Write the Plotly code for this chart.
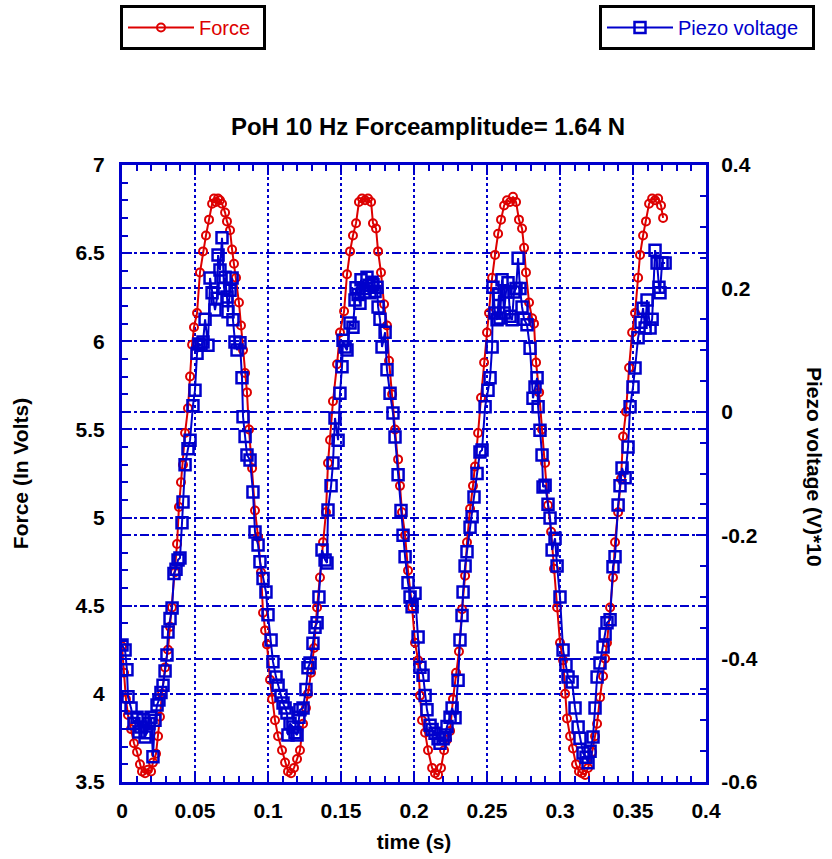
import plotly.graph_objects as go

# ---------------- data ----------------
force_t = [0.0000, 0.0014, 0.0027, 0.0041, 0.0062, 0.0082, 0.0103, 0.0123, 0.0137, 0.0158,
           0.0178, 0.0199, 0.0212, 0.0233, 0.0247, 0.0260, 0.0274, 0.0295, 0.0315, 0.0329,
           0.0342, 0.0363, 0.0377, 0.0390, 0.0404, 0.0418, 0.0432, 0.0452, 0.0466, 0.0480,
           0.0493, 0.0514, 0.0534, 0.0555, 0.0575, 0.0596, 0.0617, 0.0630, 0.0644, 0.0658,
           0.0671, 0.0685, 0.0706, 0.0719, 0.0740, 0.0754, 0.0767, 0.0781, 0.0801, 0.0815,
           0.0829, 0.0843, 0.0856, 0.0870, 0.0891, 0.0911, 0.0932, 0.0952, 0.0966, 0.0980,
           0.0993, 0.1014, 0.1028, 0.1048, 0.1069, 0.1096, 0.1117, 0.1137, 0.1158, 0.1178,
           0.1199, 0.1219, 0.1240, 0.1260, 0.1274, 0.1295, 0.1315, 0.1336, 0.1356, 0.1377,
           0.1397, 0.1411, 0.1425, 0.1445, 0.1473, 0.1493, 0.1521, 0.1541, 0.1562, 0.1582,
           0.1603, 0.1623, 0.1644, 0.1665, 0.1685, 0.1706, 0.1719, 0.1740, 0.1754, 0.1774,
           0.1795, 0.1815, 0.1829, 0.1850, 0.1870, 0.1891, 0.1904, 0.1918, 0.1939, 0.1959,
           0.1987, 0.2007, 0.2028, 0.2041, 0.2055, 0.2076, 0.2096, 0.2124, 0.2144, 0.2165,
           0.2185, 0.2206, 0.2226, 0.2247, 0.2267, 0.2288, 0.2308, 0.2329, 0.2350, 0.2363,
           0.2384, 0.2404, 0.2418, 0.2439, 0.2459, 0.2480, 0.2500, 0.2514, 0.2535, 0.2555,
           0.2576, 0.2596, 0.2617, 0.2637, 0.2658, 0.2678, 0.2699, 0.2719, 0.2740, 0.2754,
           0.2767, 0.2788, 0.2809, 0.2822, 0.2836, 0.2857, 0.2877, 0.2898, 0.2918, 0.2939,
           0.2959, 0.2980, 0.3000, 0.3021, 0.3035, 0.3048, 0.3069, 0.3089, 0.3110, 0.3130,
           0.3151, 0.3172, 0.3192, 0.3220, 0.3240, 0.3254, 0.3274, 0.3295, 0.3309, 0.3322,
           0.3343, 0.3363, 0.3377, 0.3398, 0.3418, 0.3432, 0.3452, 0.3473, 0.3494, 0.3514,
           0.3535, 0.3548, 0.3569, 0.3589, 0.3610, 0.3631, 0.3651, 0.3672, 0.3692, 0.3706]
force_v = [4.27, 4.12, 3.97, 3.88, 3.80, 3.72, 3.67, 3.60, 3.56, 3.55,
           3.57, 3.56, 3.61, 3.66, 3.76, 3.87, 4.00, 4.15, 4.25, 4.38,
           4.49, 4.69, 4.85, 5.06, 5.20, 5.30, 5.48, 5.62, 5.80, 5.98,
           6.08, 6.16, 6.39, 6.51, 6.60, 6.69, 6.78, 6.81, 6.79, 6.81,
           6.80, 6.78, 6.73, 6.68, 6.63, 6.52, 6.44, 6.36, 6.22, 6.09,
           5.95, 5.82, 5.71, 5.50, 5.28, 5.04, 4.89, 4.69, 4.46, 4.36,
           4.28, 4.08, 3.97, 3.85, 3.76, 3.68, 3.61, 3.56, 3.55, 3.58,
           3.63, 3.68, 3.83, 3.92, 4.00, 4.12, 4.26, 4.49, 4.66, 4.86,
           5.03, 5.31, 5.44, 5.66, 5.87, 6.05, 6.17, 6.38, 6.51, 6.60,
           6.67, 6.79, 6.81, 6.80, 6.81, 6.79, 6.67, 6.64, 6.51, 6.39,
           6.21, 6.09, 5.89, 5.70, 5.50, 5.33, 5.18, 5.03, 4.90, 4.70,
           4.49, 4.29, 4.19, 3.99, 3.85, 3.78, 3.68, 3.58, 3.55, 3.54,
           3.58, 3.68, 3.74, 3.79, 3.97, 4.12, 4.24, 4.48, 4.67, 4.86,
           5.05, 5.18, 5.29, 5.48, 5.68, 5.88, 6.05, 6.16, 6.36, 6.49,
           6.61, 6.69, 6.77, 6.80, 6.79, 6.82, 6.79, 6.69, 6.64, 6.53,
           6.39, 6.22, 6.13, 6.10, 5.88, 5.71, 5.50, 5.31, 5.07, 4.92,
           4.71, 4.49, 4.29, 4.19, 4.00, 3.86, 3.76, 3.69, 3.60, 3.56,
           3.55, 3.54, 3.58, 3.67, 3.76, 3.83, 3.98, 4.10, 4.20, 4.29,
           4.49, 4.66, 4.86, 5.03, 5.22, 5.46, 5.60, 5.85, 6.05, 6.16,
           6.36, 6.49, 6.60, 6.68, 6.78, 6.81, 6.80, 6.81, 6.77, 6.70]

piezo_t = [0.0000, 0.0021, 0.0034, 0.0041, 0.0062, 0.0082, 0.0103, 0.0116, 0.0130, 0.0144,
           0.0158, 0.0171, 0.0185, 0.0199, 0.0212, 0.0226, 0.0240, 0.0253, 0.0267, 0.0281,
           0.0295, 0.0308, 0.0315, 0.0329, 0.0343, 0.0356, 0.0370, 0.0384, 0.0397, 0.0411,
           0.0418, 0.0432, 0.0452, 0.0466, 0.0486, 0.0500, 0.0514, 0.0527, 0.0541, 0.0555,
           0.0569, 0.0589, 0.0603, 0.0617, 0.0637, 0.0651, 0.0658, 0.0671, 0.0685, 0.0699,
           0.0706, 0.0719, 0.0726, 0.0740, 0.0754, 0.0760, 0.0774, 0.0788, 0.0808, 0.0822,
           0.0829, 0.0843, 0.0856, 0.0877, 0.0897, 0.0911, 0.0932, 0.0945, 0.0966, 0.0986,
           0.1000, 0.1021, 0.1034, 0.1055, 0.1069, 0.1089, 0.1103, 0.1117, 0.1130, 0.1137,
           0.1151, 0.1171, 0.1185, 0.1199, 0.1212, 0.1219, 0.1240, 0.1260, 0.1274, 0.1288,
           0.1308, 0.1322, 0.1336, 0.1349, 0.1370, 0.1391, 0.1404, 0.1411, 0.1432, 0.1445,
           0.1459, 0.1480, 0.1493, 0.1507, 0.1514, 0.1528, 0.1541, 0.1562, 0.1582, 0.1596,
           0.1603, 0.1617, 0.1630, 0.1637, 0.1651, 0.1665, 0.1678, 0.1692, 0.1699, 0.1713,
           0.1719, 0.1733, 0.1747, 0.1754, 0.1767, 0.1781, 0.1802, 0.1815, 0.1836, 0.1856,
           0.1870, 0.1891, 0.1911, 0.1925, 0.1939, 0.1959, 0.1973, 0.1987, 0.2007, 0.2028,
           0.2041, 0.2062, 0.2076, 0.2089, 0.2110, 0.2124, 0.2144, 0.2165, 0.2178, 0.2199,
           0.2213, 0.2226, 0.2247, 0.2261, 0.2281, 0.2302, 0.2315, 0.2329, 0.2336, 0.2350,
           0.2363, 0.2384, 0.2398, 0.2411, 0.2432, 0.2452, 0.2466, 0.2487, 0.2507, 0.2521,
           0.2535, 0.2541, 0.2555, 0.2569, 0.2582, 0.2589, 0.2603, 0.2617, 0.2630, 0.2644,
           0.2658, 0.2672, 0.2685, 0.2699, 0.2713, 0.2726, 0.2740, 0.2754, 0.2774, 0.2795,
           0.2815, 0.2829, 0.2843, 0.2850, 0.2863, 0.2877, 0.2884, 0.2898, 0.2918, 0.2932,
           0.2946, 0.2966, 0.2980, 0.3000, 0.3021, 0.3041, 0.3055, 0.3083, 0.3103, 0.3124,
           0.3137, 0.3158, 0.3178, 0.3192, 0.3206, 0.3226, 0.3240, 0.3254, 0.3274, 0.3295,
           0.3309, 0.3322, 0.3343, 0.3363, 0.3377, 0.3398, 0.3411, 0.3425, 0.3446, 0.3466,
           0.3480, 0.3500, 0.3514, 0.3535, 0.3555, 0.3569, 0.3583, 0.3596, 0.3617, 0.3631,
           0.3651, 0.3665, 0.3678, 0.3685, 0.3699, 0.3720]
piezo_v = [-0.378, -0.386, -0.418, -0.462, -0.480, -0.505, -0.495, -0.519, -0.511, -0.499,
           -0.527, -0.520, -0.505, -0.495, -0.559, -0.500, -0.475, -0.467, -0.455, -0.443,
           -0.420, -0.394, -0.357, -0.335, -0.318, -0.262, -0.255, -0.240, -0.237, -0.180,
           -0.146, -0.086, -0.060, -0.046, 0.010, 0.035, 0.095, 0.110, 0.108, 0.113,
           0.150, 0.108, 0.217, 0.193, 0.165, 0.184, 0.254, 0.230, 0.282, 0.200,
           0.218, 0.186, 0.162, 0.197, 0.217, 0.149, 0.113, 0.100, 0.112, 0.055,
           -0.008, -0.040, -0.070, -0.078, -0.130, -0.195, -0.216, -0.243, -0.270, -0.292,
           -0.329, -0.370, -0.405, -0.430, -0.443, -0.460, -0.472, -0.480, -0.488, -0.524,
           -0.505, -0.511, -0.520, -0.524, -0.495, -0.483, -0.480, -0.450, -0.415, -0.407,
           -0.375, -0.349, -0.342, -0.300, -0.224, -0.240, -0.245, -0.159, -0.120, -0.083,
           -0.010, -0.046, 0.030, 0.073, 0.116, 0.105, 0.100, 0.144, 0.137, 0.181,
           0.201, 0.190, 0.176, 0.214, 0.200, 0.194, 0.218, 0.205, 0.193, 0.210,
           0.206, 0.195, 0.202, 0.170, 0.150, 0.105, 0.129, 0.068, 0.030, -0.002,
           -0.041, -0.102, -0.160, -0.200, -0.235, -0.277, -0.300, -0.316, -0.294, -0.365,
           -0.414, -0.427, -0.460, -0.483, -0.508, -0.515, -0.521, -0.530, -0.537, -0.530,
           -0.524, -0.510, -0.495, -0.480, -0.496, -0.435, -0.370, -0.330, -0.292, -0.250,
           -0.227, -0.187, -0.170, -0.138, -0.100, -0.065, -0.062, 0.008, 0.035, 0.055,
           0.105, 0.202, 0.160, 0.149, 0.190, 0.152, 0.214, 0.160, 0.194, 0.209,
           0.155, 0.149, 0.194, 0.200, 0.249, 0.200, 0.170, 0.150, 0.141, 0.103,
           0.022, 0.040, 0.055, 0.008, -0.030, -0.070, -0.122, -0.119, -0.150, -0.172,
           -0.224, -0.205, -0.250, -0.300, -0.386, -0.410, -0.430, -0.438, -0.480, -0.511,
           -0.529, -0.553, -0.560, -0.569, -0.550, -0.527, -0.480, -0.430, -0.407, -0.381,
           -0.360, -0.342, -0.337, -0.251, -0.235, -0.151, -0.120, -0.091, -0.107, -0.057,
           0.008, 0.040, 0.071, 0.120, 0.145, 0.168, 0.136, 0.181, 0.136, 0.150,
           0.262, 0.241, 0.202, 0.193, 0.241, 0.241]

x_ticks = [0, 0.05, 0.1, 0.15, 0.2, 0.25, 0.3, 0.35, 0.4]
y_ticks = [3.5, 4, 4.5, 5, 5.5, 6, 6.5, 7]
y2_ticks = [-0.6, -0.4, -0.2, 0, 0.2, 0.4]
y2_labels = ["-0.6", "-0.4", "-0.2", "0", "0.2", "0.4"]

title_text = "PoH 10 Hz Forceamplitude= 1.64 N"

# ---------------- styling ----------------
RED = "#dd0000"
BLUE = "#0000cc"
FONT = "Liberation Sans"
W, H = 832, 859
L, R, T, B = 122, 706, 165, 782   # plot-area pixel box


def px_x(p):
    return (p - L) / (R - L)


def px_y(p):
    return (B - p) / (B - T)


fig = go.Figure()
fig.add_trace(go.Scatter(
    x=force_t, y=force_v, name="Force", mode="lines+markers",
    line=dict(color=RED, width=2),
    marker=dict(symbol="circle-open", size=8, color=RED, line=dict(width=2, color=RED)),
    legend="legend", showlegend=True,
))
fig.add_trace(go.Scatter(
    x=piezo_t, y=piezo_v, name="Piezo voltage", mode="lines+markers",
    yaxis="y2",
    line=dict(color=BLUE, width=2),
    marker=dict(symbol="square-open", size=11, color=BLUE, line=dict(width=2.5, color=BLUE)),
    legend="legend2", showlegend=True,
))

tickfont = dict(family=FONT, size=21, color="black", weight="bold")
labfont = dict(family=FONT, size=21, color="black", weight="bold")

fig.update_layout(
    width=W, height=H,
    showlegend=True,
    margin=dict(l=L, r=W - R, t=T, b=H - B, autoexpand=False),
    paper_bgcolor="white", plot_bgcolor="white",
    font=dict(family=FONT, color="black"),
    title=dict(text=title_text, x=428 / W, xanchor="center", xref="container",
               y=1 - 127 / H, yanchor="middle", yref="container",
               font=dict(family=FONT, size=24, color="black", weight="bold")),
    xaxis=dict(
        range=[0, 0.4], tickvals=x_ticks, ticks="inside", ticklen=10, tickwidth=2,
        tickcolor=BLUE, showline=True, linecolor=BLUE, linewidth=3, mirror="ticks",
        showgrid=True, gridcolor=BLUE, gridwidth=2, griddash="dot", zeroline=False,
        tickfont=tickfont, ticklabelstandoff=8,
        minor=dict(dtick=0.01, ticks="inside", ticklen=6, tickwidth=2, tickcolor=BLUE,
                   showgrid=False),
        title=dict(text="time (s)", standoff=14, font=labfont),
    ),
    yaxis=dict(
        range=[3.5, 7], tickvals=y_ticks, ticks="inside", ticklen=10, tickwidth=2,
        tickcolor=BLUE, showline=True, linecolor=BLUE, linewidth=3, mirror=False,
        showgrid=True, gridcolor=BLUE, gridwidth=2, griddash="dashdot", zeroline=False,
        tickfont=tickfont, ticklabelstandoff=10,
        minor=dict(dtick=0.1, ticks="inside", ticklen=6, tickwidth=2, tickcolor=BLUE,
                   showgrid=False),
        title=dict(text="Force (In Volts)", standoff=42, font=labfont),
    ),
    yaxis2=dict(
        range=[-0.6, 0.4], overlaying="y", side="right",
        tickvals=y2_ticks, ticktext=y2_labels, ticks="inside", ticklen=10, tickwidth=2,
        tickcolor=BLUE, showline=True, linecolor=BLUE, linewidth=3,
        showgrid=True, gridcolor=BLUE, gridwidth=2, griddash="dashdot", zeroline=False,
        tickfont=tickfont, ticklabelstandoff=8,
        minor=dict(dtick=0.05, ticks="inside", ticklen=6, tickwidth=2, tickcolor=BLUE,
                   showgrid=False),
    ),
    legend=dict(
        x=px_x(120), y=px_y(5), xanchor="left", yanchor="top",
        orientation="h", entrywidth=59,
        bordercolor="black", borderwidth=3, bgcolor="white",
        font=dict(family=FONT, size=20, color=RED),
        itemwidth=66, visible=True,
    ),
    legend2=dict(
        x=px_x(815), y=px_y(5), xanchor="right", yanchor="top",
        orientation="h", entrywidth=129,
        bordercolor="black", borderwidth=3, bgcolor="white",
        font=dict(family=FONT, size=20, color=BLUE),
        itemwidth=66, visible=True,
    ),
    annotations=[
        dict(text="Piezo voltage (V)*10", textangle=90, x=px_x(815), y=px_y(467),
             xref="paper", yref="paper", xanchor="center", yanchor="middle",
             showarrow=False, font=labfont),
    ],
)

fig.write_html("out.html")
